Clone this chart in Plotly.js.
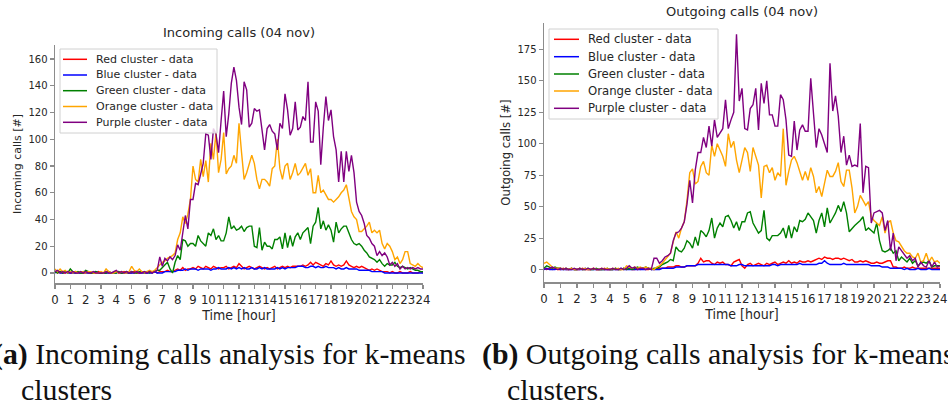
<!DOCTYPE html>
<html>
<head>
<meta charset="utf-8">
<script src="https://cdn.plot.ly/plotly-3.0.1.min.js"></script>
<style>
html,body{margin:0;padding:0;background:#fff;}
#chart{width:948px;height:406px;}
</style>
</head>
<body>
<div id="chart"></div>
<script>
// ---------- DATA (10-minute samples, 00:00 .. 24:00) ----------
const seriesNames = ["Red cluster - data","Blue cluster - data","Green cluster - data","Orange cluster - data","Purple cluster - data"];
const seriesColors = ["#ff0000","#0000ff","#008000","#ffa500","#800080"];
const hourTicks = [0,1,2,3,4,5,6,7,8,9,10,11,12,13,14,15,16,17,18,19,20,21,22,23,24];

// Incoming calls
const inRed = [
1,0,1,0,0,1, 0,0,1,0,0,0, 0,1,0,0,0,1, 0,0,0,1,0,0, 1,0,0,1,0,0, 0,1,0,0,1,0,
0,1,0,1,0,1, 1,1,2,1,1,2, 3,2,4,2,3,3, 4,3,5,4,3,5, 4,3,5,4,3,4, 4,5,3,4,5,4,
7,5,3,4,5,4, 3,4,5,4,3,4, 3,4,5,3,4,5, 4,5,4,5,5,5, 5,6,5,6,8,6, 8,7,6,5,7,6,
9,6,5,6,5,6, 9,6,5,4,5,4, 5,4,3,2,3,2, 3,2,1,1,1,0, 1,0,0,1,0,0, 0,1,0,0,0,1, 0];
const inBlue = [
0,1,0,0,1,0, 0,0,0,0,0,1, 0,0,0,0,1,0, 0,0,0,0,0,0, 0,1,0,0,0,0, 0,0,1,0,0,0,
0,0,0,1,0,0, 0,1,1,1,1,1, 2,2,2,3,2,3, 3,3,2,3,3,3, 3,2,3,3,4,3, 3,3,4,3,4,3,
4,3,4,3,3,4, 3,3,4,3,4,3, 3,3,3,4,3,4, 3,4,4,4,4,5, 5,5,4,4,5,5, 4,5,4,4,5,4,
4,4,3,4,3,3, 4,3,3,3,3,2, 2,2,2,2,1,1, 1,1,1,0,0,0, 0,0,0,0,0,0, 0,0,0,0,0,0, 0];
const inGreen = [
1,0,1,0,1,0, 3,1,0,1,0,0, 2,1,0,0,1,0, 0,0,0,1,0,0, 0,1,0,0,1,0, 1,0,0,1,1,0,
1,0,1,1,2,2, 4,6,8,3,0,8, 13,10,25,24,20,22, 22,20,28,24,22,20, 30,28,33,25,28,24, 24,30,42,33,35,32,
33,35,31,34,35,35, 20,19,34,17,23,20, 20,18,25,25,27,18, 30,19,28,20,27,30, 25,30,32,34,22,35, 38,49,33,39,32,36,
32,23,38,30,33,35, 35,30,25,22,21,22, 20,17,15,12,11,10, 8,10,7,5,7,6, 6,8,5,4,5,4, 3,4,3,2,2,1, 1];
const inOrange = [
3,1,3,1,2,0, 1,0,1,0,1,1, 0,1,1,0,0,0, 1,0,3,1,0,0, 1,0,1,0,0,1, 5,2,1,3,1,0,
1,2,1,2,4,6, 8,9,11,12,13,15, 25,30,42,37,44,55, 80,70,68,85,72,84, 68,97,85,105,75,85, 105,74,78,80,88,82,
112,90,70,75,82,88, 82,70,63,70,70,68, 65,78,80,100,78,70, 80,82,70,75,82,73, 75,78,82,73,78,60, 60,73,60,62,58,55,
55,53,55,57,60,62, 66,57,46,42,40,31, 31,33,35,38,30,32, 30,32,22,18,22,20, 16,10,12,7,10,16, 16,7,6,5,7,5, 4];
const inPurple = [
1,2,0,1,0,1, 0,1,0,0,1,0, 1,0,0,1,0,0, 0,0,1,0,0,1, 2,0,1,0,1,0, 1,0,1,0,0,1,
0,1,0,1,2,12, 5,11,9,12,10,13, 21,17,30,43,33,55, 55,67,66,75,82,104, 103,85,108,104,90,114, 136,102,119,142,154,144,
124,111,143,137,109,112, 123,121,122,107,92,108, 111,106,104,92,112,108, 134,122,103,108,128,107, 109,117,114,143,98,98, 128,121,81,109,132,114,
122,102,92,68,91,68, 91,76,88,75,53,46, 43,37,28,26,22,20, 13,16,13,15,12,6, 8,5,7,3,5,3, 4,3,4,3,4,3, 3];

// Outgoing calls
const outRed = [
1,0,1,0,1,0, 0,1,0,0,1,0, 0,0,1,0,0,0, 1,0,0,0,1,0, 0,0,1,0,0,1, 0,1,0,0,1,0,
1,0,0,1,0,1, 1,1,1,2,2,2, 3,3,2,2,3,3, 3,3,5,9,6,7, 7,5,4,6,5,6, 4,4,3,6,7,8,
3,1,4,5,3,4, 5,4,3,5,4,5, 6,4,5,6,5,7, 5,6,5,7,6,6, 7,6,7,8,9,8, 10,9,9,8,9,9,
8,9,8,7,8,6, 6,7,6,7,6,5, 5,6,5,5,6,7, 7,2,2,1,1,2, 1,1,2,1,1,1, 1,1,1,1,1,1, 1];
const outBlue = [
0,1,0,0,0,1, 0,0,0,0,0,0, 0,0,0,1,0,0, 0,0,0,0,0,0, 0,0,0,0,1,0, 0,0,0,0,0,0,
0,0,1,0,0,0, 0,1,1,1,1,1, 2,2,2,2,3,3, 3,3,4,4,4,4, 4,4,4,4,4,4, 4,4,3,3,3,4,
4,3,3,3,3,3, 3,3,3,3,3,4, 4,3,4,4,4,4, 4,4,4,5,4,4, 4,4,4,4,5,5, 7,5,4,4,4,4,
4,5,4,4,4,4, 4,4,4,4,4,3, 3,3,3,2,2,2, 1,1,1,1,1,0, 1,0,0,0,1,0, 0,0,1,0,0,0, 0];
const outGreen = [
1,3,2,1,2,1, 1,0,1,0,1,0, 0,1,0,0,1,0, 0,1,0,0,0,1, 0,0,1,0,0,1, 0,1,0,1,2,1,
1,2,1,0,1,1, 2,4,5,6,8,7, 18,15,14,17,23,21, 17,26,19,31,29,26, 31,41,25,33,37,34, 42,43,39,33,38,31,
38,38,45,46,37,33, 29,31,47,25,23,27, 27,27,29,33,25,35, 25,34,30,39,38,40, 45,42,39,29,39,45, 34,49,37,41,45,51,
46,54,45,30,33,35, 37,39,42,31,33,31, 29,37,23,15,14,15, 17,13,15,7,10,8, 6,9,5,7,3,5, 6,5,7,2,3,3, 3];
const outOrange = [
5,6,4,2,1,1, 1,0,1,0,1,0, 0,1,0,1,0,0, 1,0,0,1,0,1, 0,1,0,1,0,0, 3,2,1,2,1,2,
1,2,1,1,0,2, 3,5,8,10,13,22, 30,25,33,38,55,77, 80,68,70,82,86,77, 75,99,90,100,95,90, 82,108,97,102,87,77,
87,97,93,78,97,90, 83,57,82,83,77,81, 71,77,74,112,67,78, 87,90,85,78,71,78, 71,81,74,61,66,58, 69,79,74,74,78,85,
70,66,79,79,65,45, 50,59,55,51,54,42, 39,37,35,42,29,37, 39,29,23,22,18,15, 13,13,10,9,13,6, 7,13,6,10,6,7, 5];
const outPurple = [
1,0,1,2,1,0, 1,0,1,0,0,1, 0,1,0,0,1,0, 1,0,0,1,0,0, 0,1,0,0,1,0, 1,3,1,2,0,1,
1,0,1,0,9,9, 5,7,10,11,13,23, 29,30,33,38,52,71, 53,79,93,93,105,97, 114,98,119,105,108,112, 135,112,119,125,187,134,
144,112,111,128,131,144, 111,148,132,150,123,123, 114,114,139,135,119,91, 90,118,95,111,115,110, 110,152,124,97,112,107, 100,93,164,126,138,122,
93,106,83,91,82,83, 82,116,61,82,81,37, 45,46,47,45,31,39, 15,29,7,18,15,13, 9,11,7,9,2,6, 3,2,7,2,6,2, 3];

const incoming = [inRed, inBlue, inGreen, inOrange, inPurple];
const outgoing = [outRed, outBlue, outGreen, outOrange, outPurple];

// ---------- LAYOUT HELPERS ----------
const W = 948, H = 406;
const fx = p => p / W;          // pixel x -> paper
const fy = p => 1 - p / H;      // pixel y -> paper
const SANS = "DejaVu Sans, sans-serif";
const NARROW = "Liberation Sans Narrow, DejaVu Sans Condensed, Roboto Condensed, Arial Narrow, sans-serif";
const SERIF = "Liberation Serif, Times New Roman, serif";
const TXT = "#262626";
const SPINE = "#8c8c8c";

const traces = [];
incoming.forEach((arr, i) => traces.push({
  type: "scatter", mode: "lines", name: seriesNames[i], y: arr, x0: 0, dx: 1/6,
  xaxis: "x", yaxis: "y", line: {color: seriesColors[i], width: 1.4}, showlegend: false
}));
outgoing.forEach((arr, i) => traces.push({
  type: "scatter", mode: "lines", name: seriesNames[i], y: arr, x0: 0, dx: 1/6,
  xaxis: "x2", yaxis: "y2", line: {color: seriesColors[i], width: 1.4}, showlegend: false
}));

function xAxis(domain, anchor) {
  return {
    domain: domain, anchor: anchor, range: [0, 24], tickmode: "array", tickvals: hourTicks,
    ticktext: hourTicks.map(String), tickangle: 0,
    ticks: "outside", ticklen: 4, tickwidth: 1.2, tickcolor: SPINE,
    showline: true, linecolor: SPINE, linewidth: 1.5, showgrid: false, zeroline: false,
    tickfont: {family: NARROW, size: 13, color: TXT},
    title: {text: "Time [hour]", font: {family: NARROW, size: 14, color: TXT}, standoff: 0}
  };
}
function yAxis(domain, anchor, range, dtick, title, fsize) {
  return {
    domain: domain, anchor: anchor, range: range, dtick: dtick, tick0: 0,
    ticks: "outside", ticklen: 4, tickwidth: 1.2, tickcolor: SPINE,
    showline: true, linecolor: SPINE, linewidth: 1.5, showgrid: false, zeroline: false,
    tickfont: {family: SANS, size: 10, color: TXT},
    title: {text: title, font: {family: SANS, size: fsize, color: TXT}, standoff: 4}
  };
}

const shapes = [], annotations = [];

function legend(box, rowsY, lineX0, lineX1, textX, fsize) {
  shapes.push({type: "rect", xref: "paper", yref: "paper", layer: "above",
    x0: fx(box[0]), x1: fx(box[1]), y0: fy(box[3]), y1: fy(box[2]),
    line: {color: "#d0d0d0", width: 1}, fillcolor: "rgba(255,255,255,0.8)"});
  seriesNames.forEach((nm, i) => {
    shapes.push({type: "line", xref: "paper", yref: "paper", layer: "above",
      x0: fx(lineX0), x1: fx(lineX1), y0: fy(rowsY[i]), y1: fy(rowsY[i]),
      line: {color: seriesColors[i], width: 1.5}});
    annotations.push({xref: "paper", yref: "paper", x: fx(textX), y: fy(rowsY[i]),
      xanchor: "left", yanchor: "middle", showarrow: false, text: nm,
      font: {family: SANS, size: fsize, color: TXT}, borderpad: 0});
  });
}
legend([60, 217, 49, 133], [59.3, 75, 90.7, 106.5, 122.3], 63, 87, 95, 11);
legend([549, 718, 29, 119], [39.3, 56.7, 74, 91, 108.3], 554, 579, 587, 11.7);

// subplot titles
annotations.push({xref: "paper", yref: "paper", x: fx(239), y: fy(33), xanchor: "center", yanchor: "middle",
  showarrow: false, text: "Incoming calls (04 nov)", font: {family: SANS, size: 13, color: TXT}});
annotations.push({xref: "paper", yref: "paper", x: fx(742), y: fy(12), xanchor: "center", yanchor: "middle",
  showarrow: false, text: "Outgoing calls (04 nov)", font: {family: SANS, size: 13, color: TXT}});

// figure captions
const capFont = {family: SERIF, size: 29.8, color: "#111"};
annotations.push({xref: "paper", yref: "paper", x: fx(-8), y: fy(354), xanchor: "left", yanchor: "middle",
  showarrow: false, text: "<b>(a)</b> Incoming calls analysis for k-means", font: capFont, borderpad: 0});
annotations.push({xref: "paper", yref: "paper", x: fx(20), y: fy(389), xanchor: "left", yanchor: "middle",
  showarrow: false, text: "clusters", font: capFont, borderpad: 0});
annotations.push({xref: "paper", yref: "paper", x: fx(481), y: fy(354), xanchor: "left", yanchor: "middle",
  showarrow: false, text: "<b>(b)</b> Outgoing calls analysis for k-means", font: capFont, borderpad: 0});
annotations.push({xref: "paper", yref: "paper", x: fx(506), y: fy(389), xanchor: "left", yanchor: "middle",
  showarrow: false, text: "clusters.", font: capFont, borderpad: 0});

const layout = {
  width: W, height: H, margin: {l: 0, r: 0, t: 0, b: 0},
  paper_bgcolor: "#ffffff", plot_bgcolor: "#ffffff", showlegend: false,
  xaxis: xAxis([fx(55), fx(423)], "y"),
  yaxis: yAxis([fy(283), fy(45)], "x", [-7.5, 170.5], 20, "Incoming calls [#]", 11),
  xaxis2: xAxis([fx(544), fx(940)], "y2"),
  yaxis2: yAxis([fy(282), fy(23)], "x2", [-9.9, 196], 25, "Outgoing calls [#]", 11.7),
  shapes: shapes, annotations: annotations
};

Plotly.newPlot("chart", traces, layout, {displayModeBar: false, staticPlot: true});
</script>
</body>
</html>
